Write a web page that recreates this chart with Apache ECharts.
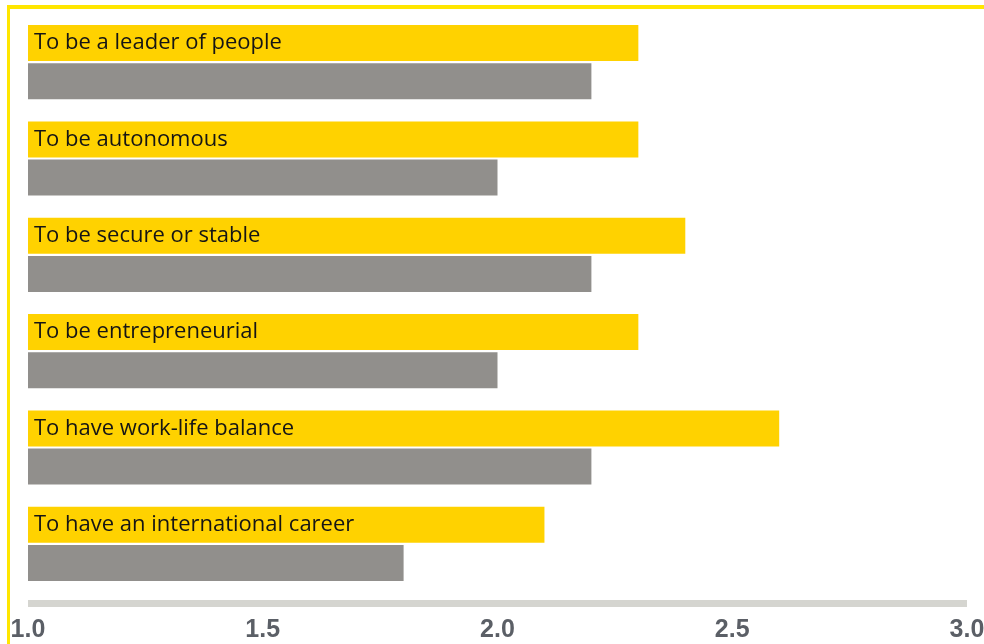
<!DOCTYPE html>
<html>
<head>
<meta charset="utf-8">
<script src="https://cdn.jsdelivr.net/npm/echarts@6/dist/echarts.min.js"></script>
<style>
html,body{margin:0;padding:0;background:#fff;}
#chart{width:984px;height:644px;}
</style>
</head>
<body>
<div id="chart"></div>
<script>
const categories = [
  "To be a leader of people",
  "To be autonomous",
  "To be secure or stable",
  "To be entrepreneurial",
  "To have work-life balance",
  "To have an international career"
];
const yellowValues = [2.3, 2.3, 2.4, 2.3, 2.6, 2.1];
const grayValues = [2.2, 2.0, 2.2, 2.0, 2.2, 1.8];
const tickLabels = ["1.0", "1.5", "2.0", "2.5", "3.0"];

const chart = echarts.init(document.getElementById('chart'));
chart.setOption({
  animation: false,
  grid: { left: 28, right: 17, top: 14, height: 578, outerBoundsMode: 'none', containLabel: false },
  xAxis: {
    type: 'value',
    min: 1, max: 3, interval: 0.5,
    offset: 11,
    axisLine: { show: true, lineStyle: { color: '#D5D5D0', width: 7, cap: 'butt' } },
    axisTick: { show: false },
    splitLine: { show: false },
    axisLabel: {
      margin: 15,
      color: '#5B5F66',
      fontFamily: 'Liberation Sans',
      fontWeight: 'bold',
      fontSize: 25,
      formatter: function (v) {
        const i = Math.round((v - 1) / 0.5);
        return tickLabels[i] !== undefined ? tickLabels[i] : '';
      }
    }
  },
  yAxis: {
    type: 'category',
    data: categories,
    inverse: true,
    show: false
  },
  series: [
    {
      type: 'bar',
      data: yellowValues,
      barWidth: 36,
      barGap: '6%',
      itemStyle: { color: '#FFD200' },
      label: {
        show: true,
        position: 'insideLeft',
        distance: 6,
        color: '#151515',
        fontFamily: 'Open Sans',
        fontWeight: 500,
        fontSize: 22,
        formatter: function (p) { return categories[p.dataIndex]; }
      }
    },
    {
      type: 'bar',
      data: grayValues,
      barWidth: 36,
      itemStyle: { color: '#918F8C' }
    }
  ],
  graphic: [
    { type: 'rect', shape: { x: 7, y: 5, width: 977, height: 4 }, style: { fill: '#FFE600' }, silent: true },
    { type: 'rect', shape: { x: 7, y: 5, width: 3, height: 639 }, style: { fill: '#FFE600' }, silent: true }
  ]
});
</script>
</body>
</html>
